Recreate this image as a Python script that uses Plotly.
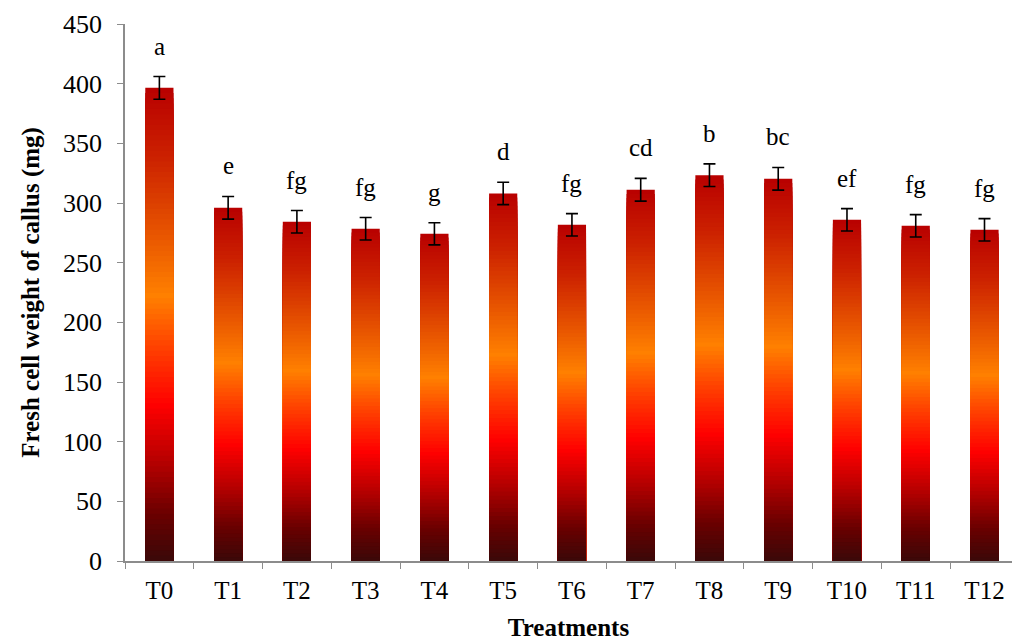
import plotly.graph_objects as go
import plotly.colors as pc

# ---- data ----
treatments = ["T0", "T1", "T2", "T3", "T4", "T5", "T6", "T7", "T8", "T9", "T10", "T11", "T12"]
fresh_weight = [396.5, 296.0, 284.3, 278.4, 274.2, 308.0, 281.7, 311.1, 323.3, 320.3, 285.9, 280.9, 277.5]
std_error = [9.5, 9.5, 9.4, 9.4, 9.3, 9.4, 9.4, 9.5, 9.5, 9.5, 9.4, 9.4, 9.4]
letters = ["a", "e", "fg", "fg", "g", "d", "fg", "cd", "b", "bc", "ef", "fg", "fg"]

# gradient (fraction of bar height from bottom -> colour)
grad_scale = [
    [0.0, "#3a0808"],
    [0.1, "#6b0000"],
    [0.2, "#b00000"],
    [0.33, "#ff0000"],
    [0.45, "#ff4000"],
    [0.56, "#ff8000"],
    [0.7, "#e65200"],
    [0.85, "#cc2200"],
    [1.0, "#b80000"],
]
N_STEPS = 90

fig = go.Figure()

# overlaid bars, tallest first, each shorter bar covering the lower part
for k in range(N_STEPS):
    frac = (N_STEPS - k) / N_STEPS
    col = pc.sample_colorscale(grad_scale, [(N_STEPS - k - 0.5) / N_STEPS])[0]
    fig.add_trace(go.Bar(
        x=treatments,
        y=[v * frac for v in fresh_weight],
        marker=dict(color=col, line=dict(width=0)),
        hoverinfo="skip",
        showlegend=False,
    ))

# error bars
fig.add_trace(go.Scatter(
    x=treatments,
    y=fresh_weight,
    mode="markers",
    marker=dict(size=1, opacity=0),
    error_y=dict(type="data", array=std_error, visible=True,
                 color="black", thickness=1.6, width=6),
    hoverinfo="skip",
    showlegend=False,
))

# significance letters
for t, v, e, s in zip(treatments, fresh_weight, std_error, letters):
    fig.add_annotation(
        x=t, y=v + e, text=s, showarrow=False,
        yanchor="bottom", yshift=15,
        font=dict(family="Liberation Serif", size=25, color="black"),
    )

axis_font = dict(family="Liberation Serif", size=26, color="black")
xtick_font = dict(family="Liberation Serif", size=25, color="black")
title_font = dict(family="Liberation Serif", size=25, color="black")

fig.update_layout(
    width=1012, height=641,
    barmode="overlay",
    bargap=0.59,
    plot_bgcolor="white",
    paper_bgcolor="white",
    margin=dict(l=125, r=0, t=24, b=80),
    xaxis=dict(
        range=[-0.5, 12.4],
        automargin=False,
        showline=True, linecolor="#8c8c8c", linewidth=1.5,
        ticks="outside", tickson="boundaries", ticklen=6, tickcolor="#8c8c8c",
        tickfont=xtick_font, ticklabelstandoff=6,
        title=dict(text="<b>Treatments</b>", font=title_font, standoff=22),
        showgrid=False, zeroline=False,
    ),
    yaxis=dict(
        range=[0, 450], dtick=50,
        automargin=False,
        showline=True, linecolor="#8c8c8c", linewidth=1.5,
        ticks="outside", ticklen=6, tickcolor="#8c8c8c",
        tickfont=axis_font, ticklabelstandoff=10,
        title=dict(text="<b>Fresh cell weight of callus (mg)</b>", font=title_font, standoff=16),
        showgrid=False, zeroline=False,
    ),
)

fig.write_html("out.html", config={"displayModeBar": False},
               post_script="document.body.style.margin='0';")
